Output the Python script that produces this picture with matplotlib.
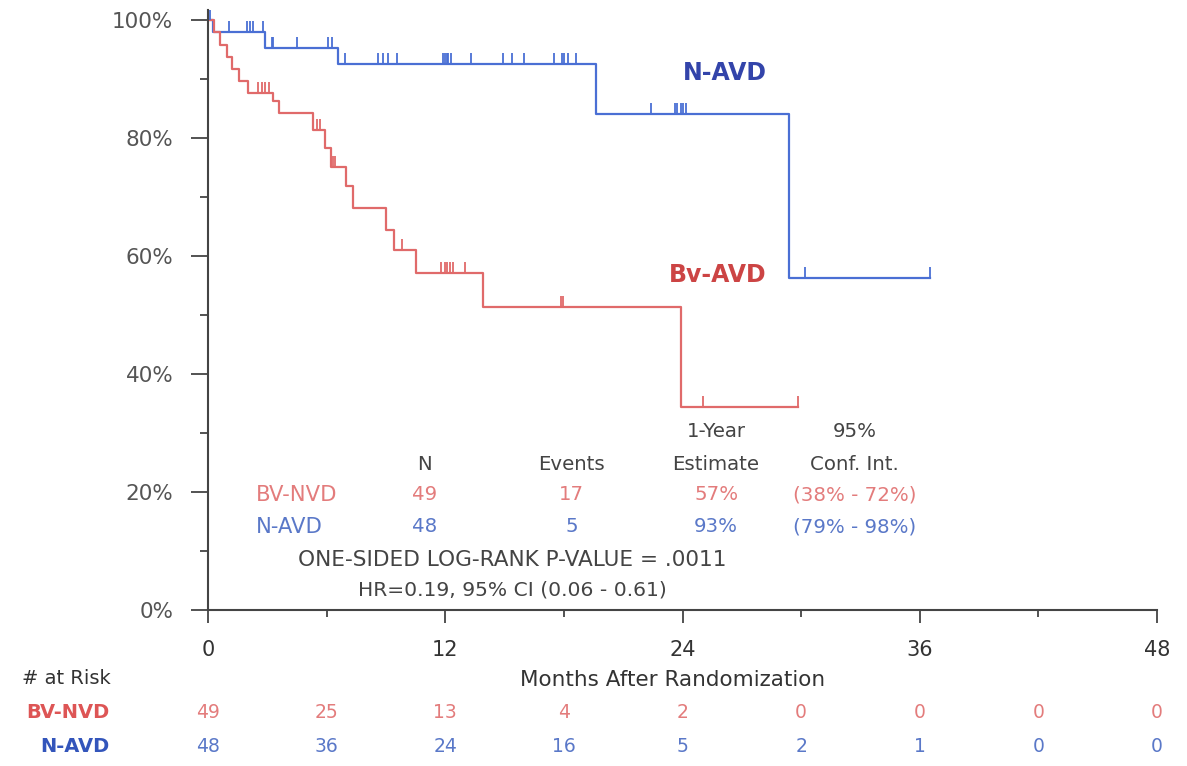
import numpy as np
import matplotlib
matplotlib.use("Agg")
import matplotlib.pyplot as plt

plt.rcParams['font.family'] = ['DejaVu Sans']

# Kaplan-Meier steps (months, % surviving)
blue_times = [0, 0.25, 2.9, 6.6, 19.6, 29.4, 36.5]
blue_surv = [100, 97.9, 95.2, 92.5, 84.1, 56.3, 56.3]
blue_censor = [0.1, 1.08, 1.98, 2.12, 2.29, 2.76, 3.22, 3.30, 4.48, 6.08, 6.25, 6.93,
               8.61, 8.87, 9.12, 9.54, 11.9, 11.99, 12.07, 12.16, 12.3, 13.3, 14.9,
               15.4, 16.0, 17.5, 17.9, 18.0, 18.2, 18.6, 22.4, 23.6, 23.7, 23.9,
               24.0, 24.2, 30.2, 36.5]

red_times = [0, 0.3, 0.6, 0.95, 1.2, 1.55, 2.0, 3.3, 3.6, 5.3, 5.9, 6.2, 7.0, 7.35,
             9.0, 9.4, 10.5, 13.9, 23.9, 29.85]
red_surv = [100, 97.9, 95.8, 93.8, 91.7, 89.6, 87.6, 86.2, 84.2, 81.4, 78.3, 75.1,
            71.8, 68.1, 64.4, 61.0, 57.1, 51.4, 34.4, 34.4]
red_censor = [2.55, 2.75, 2.9, 3.1, 5.5, 5.66, 6.3, 6.42, 9.8, 11.8, 12.0, 12.07,
              12.24, 12.4, 13.0, 17.84, 17.97, 25.05, 29.85]

risk_months = [0, 6, 12, 18, 24, 30, 36, 42, 48]
risk_red = [49, 25, 13, 4, 2, 0, 0, 0, 0]
risk_blue = [48, 36, 24, 16, 5, 2, 1, 0, 0]

table_cols = ['N', 'Events', 'Estimate', 'Conf. Int.']
table_red = ['49', '17', '57%', '(38% - 72%)']
table_blue = ['48', '5', '93%', '(79% - 98%)']

RED = '#e06a6a'
BLUE = '#4a6fd4'
RED_TXT = '#e37c7c'
BLUE_TXT = '#5a78c8'
GREY = '#444444'
FS = 14.2


def level_at(times, surv, t):
    idx = np.searchsorted(times, t, side='right') - 1
    return np.asarray(surv)[idx]


fig = plt.figure(figsize=(11.87, 7.66), dpi=100)
ax = fig.add_axes([208 / 1187, 1 - 610 / 766, (1157 - 208) / 1187, 600 / 766])

ax.step(blue_times, blue_surv, where='post', color=BLUE, lw=1.6)
ax.step(red_times, red_surv, where='post', color=RED, lw=1.6)

bc = level_at(blue_times, blue_surv, blue_censor)
ax.vlines(blue_censor, bc, bc + 1.9, color=BLUE, lw=1.3)
rc = level_at(red_times, red_surv, red_censor)
ax.vlines(red_censor, rc, rc + 1.9, color=RED, lw=1.3)

ax.set_xlim(0, 48)
ax.set_ylim(0, 101.7)
for s in ['top', 'right']:
    ax.spines[s].set_visible(False)
for s in ['left', 'bottom']:
    ax.spines[s].set_color(GREY)
    ax.spines[s].set_linewidth(1.5)

ax.set_xticks([0, 12, 24, 36, 48])
ax.set_xticks([6, 18, 30, 42], minor=True)
ax.set_yticks([0, 20, 40, 60, 80, 100])
ax.set_yticklabels(['0%', '20%', '40%', '60%', '80%', '100%'])
ax.set_yticks([10, 30, 50, 70, 90], minor=True)
ax.tick_params(axis='y', which='major', length=12, width=1.3, color=GREY,
               labelsize=15.5, labelcolor='#555555', pad=13)
ax.tick_params(axis='y', which='minor', length=6, width=1.3, color=GREY)
ax.tick_params(axis='x', which='major', length=9.5, width=1.3, color=GREY,
               labelsize=15, labelcolor='#333333', pad=12)
ax.tick_params(axis='x', which='minor', length=5, width=1.3, color=GREY)
ax.set_xlabel('Months After Randomization', fontsize=15.5, color='#333333')
ax.xaxis.set_label_coords(0.49, -70 / 600)
ax.xaxis.label.set_va('center')

ax.text(26.15, 91.0, 'N-AVD', color='#3344aa', fontsize=17, fontweight='bold', ha='center', va='center')
ax.text(25.8, 56.8, 'Bv-AVD', color='#cc4444', fontsize=17, fontweight='bold', ha='center', va='center')

# summary table inside the plot
col_x = [10.95, 18.4, 25.7, 32.7]
ax.text(25.7, 30.2, '1-Year', fontsize=FS, color='#444444', ha='center', va='center')
ax.text(32.7, 30.2, '95%', fontsize=FS, color='#444444', ha='center', va='center')
for x, lab in zip(col_x, table_cols):
    ax.text(x, 24.6, lab, fontsize=FS, color='#444444', ha='center', va='center')
ax.text(2.4, 19.5, 'BV-NVD', fontsize=15.2, color=RED_TXT, ha='left', va='center')
ax.text(2.4, 14.1, 'N-AVD', fontsize=15.2, color=BLUE_TXT, ha='left', va='center')
for x, a, b in zip(col_x, table_red, table_blue):
    ax.text(x, 19.5, a, fontsize=FS, color=RED_TXT, ha='center', va='center')
    ax.text(x, 14.1, b, fontsize=FS, color=BLUE_TXT, ha='center', va='center')
ax.text(15.4, 8.5, 'ONE-SIDED LOG-RANK P-VALUE = .0011', fontsize=15.6, color='#444444', ha='center', va='center')
ax.text(15.4, 3.4, 'HR=0.19, 95% CI (0.06 - 0.61)', fontsize=14.6, color='#444444', ha='center', va='center')

# numbers at risk below the axis
fig.text(22 / 1187, 1 - 678 / 766, '# at Risk', fontsize=14, color='#333333', ha='left', va='center')
fig.text(110 / 1187, 1 - 713 / 766, 'BV-NVD', fontsize=14, color='#dd5555', fontweight='bold', ha='right', va='center')
fig.text(110 / 1187, 1 - 746 / 766, 'N-AVD', fontsize=14, color='#3355bb', fontweight='bold', ha='right', va='center')
for m, r, b in zip(risk_months, risk_red, risk_blue):
    ax.text(m, -103 / 600 * 101.7, str(r), fontsize=13.5,
            color=RED_TXT, ha='center', va='center', clip_on=False)
    ax.text(m, -136 / 600 * 101.7, str(b), fontsize=13.5,
            color=BLUE_TXT, ha='center', va='center', clip_on=False)

fig.savefig('out.png', dpi=100)
